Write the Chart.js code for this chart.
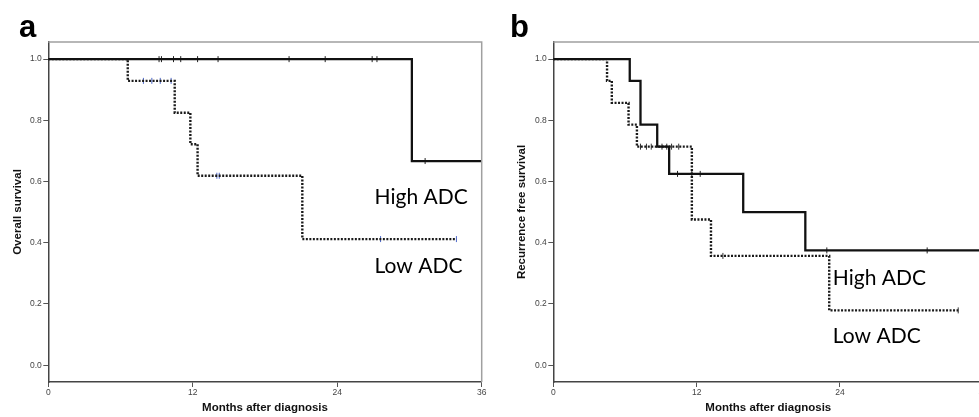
<!DOCTYPE html>
<html>
<head>
<meta charset="utf-8">
<script src="https://cdn.jsdelivr.net/npm/chart.js@4.4.0/dist/chart.umd.min.js"></script>
<style>
  html, body { margin: 0; padding: 0; background: #fff; overflow: hidden; width: 979px; height: 417px; }
  #chartA { position: absolute; left: 0; top: 0; }
  #chartB { position: absolute; left: 490px; top: 0; }
</style>
</head>
<body>
<canvas id="chartA" width="490" height="417"></canvas>
<canvas id="chartB" width="500" height="417"></canvas>
<script>
const monthTicks = [0, 12, 24, 36];
const survTicks = [0, 0.2, 0.4, 0.6, 0.8, 1.0];

// a: overall survival
const osHighMonths = [0, 30.2, 36];
const osHighSurv = [1, 0.667, 0.667];
const osHighCensored = [9.2, 9.4, 10.4, 11.0, 12.4, 14.1, 20.0, 23.0, 26.9, 27.3, 31.3];

const osLowMonths = [0, 6.6, 10.5, 11.8, 12.4, 21.1, 33.9];
const osLowSurv = [1, 0.929, 0.825, 0.722, 0.619, 0.412, 0.412];
const osLowCensored = [7.9, 8.6, 9.3, 10.2, 14.0, 14.2, 27.6, 33.9];

// b: recurrence free survival
const rfsHighMonths = [0, 6.4, 7.3, 8.7, 9.7, 15.9, 21.1, 36];
const rfsHighSurv = [1, 0.929, 0.786, 0.714, 0.625, 0.5, 0.375, 0.375];
const rfsHighCensored = [9.1, 9.5, 10.4, 11.6, 12.3, 22.9, 31.3];

const rfsLowMonths = [0, 4.5, 4.9, 6.3, 7.0, 11.6, 13.2, 23.1, 33.9];
const rfsLowSurv = [1, 0.929, 0.857, 0.786, 0.714, 0.476, 0.357, 0.179, 0.179];
const rfsLowCensored = [7.3, 7.8, 8.2, 9.9, 10.5, 14.2, 33.9];

function curve(months, surv) {
  return months.map((m, i) => ({ x: m, y: surv[i] }));
}

// censored cases sit on the curve at the current survival level
function censorPoints(censored, months, surv) {
  return censored.map(c => {
    let s = surv[0];
    months.forEach((m, i) => { if (m <= c) s = surv[i]; });
    return { x: c, y: s };
  });
}

const decor = {
  id: 'decor',
  afterDraw(chart, args, opts) {
    const { ctx, chartArea: a, scales: { x, y } } = chart;
    ctx.save();
    ctx.strokeStyle = '#a0a0a0';
    ctx.lineWidth = 1.5;
    ctx.beginPath();
    ctx.moveTo(a.left, a.top);
    ctx.lineTo(a.right, a.top);
    ctx.lineTo(a.right, a.bottom);
    ctx.stroke();

    ctx.fillStyle = '#000';
    ctx.font = '21px Lato';
    opts.labels.forEach(l => {
      ctx.fillText(l.text, x.getPixelForValue(l.month), y.getPixelForValue(l.surv));
    });
    ctx.font = 'bold 31px "Liberation Sans"';
    ctx.fillText(opts.letter, opts.letterX, 37);
    ctx.restore();
  }
};

function makeScales(yTitle, yWidth, yTitlePad) {
  const tickFont = { family: 'Liberation Sans', size: 8.5 };
  const titleFont = { family: 'Liberation Sans', size: 11.5, weight: 'bold' };
  return {
    x: {
      type: 'linear', min: 0, max: 36,
      afterBuildTicks: s => { s.ticks = monthTicks.map(v => ({ value: v })); },
      afterFit: s => { s.height = 35; },
      grid: { drawOnChartArea: false, drawTicks: true, tickLength: 5, color: '#555', lineWidth: 1 },
      border: { display: true, color: '#444', width: 1.5 },
      ticks: { font: tickFont, color: '#444', padding: 1, maxRotation: 0, autoSkip: false },
      title: { display: true, text: 'Months after diagnosis', font: titleFont, color: '#111', padding: { top: 0, bottom: 2 } }
    },
    y: {
      type: 'linear', min: -0.055, max: 1.056,
      afterBuildTicks: s => { s.ticks = survTicks.map(v => ({ value: v })); },
      afterFit: s => { s.width = yWidth; },
      grid: { drawOnChartArea: false, drawTicks: true, tickLength: 5, color: '#555', lineWidth: 1 },
      border: { display: true, color: '#444', width: 1.5 },
      ticks: { font: tickFont, color: '#444', padding: 1.5, callback: v => v.toFixed(1) },
      title: { display: true, text: yTitle, font: titleFont, color: '#111', padding: { top: yTitlePad, bottom: 0 } }
    }
  };
}

function stepSet(data, dashed) {
  return {
    data: data,
    stepped: 'before',
    borderColor: dashed ? '#1a1a1a' : '#111',
    borderWidth: dashed ? 2.4 : 2.3,
    borderDash: dashed ? [2, 1.5] : [],
    pointRadius: 0,
    fill: false
  };
}

function censorSet(data, color) {
  return {
    data: data,
    showLine: false,
    pointStyle: 'line',
    rotation: 90,
    pointRadius: 3,
    pointBorderWidth: 1,
    pointBorderColor: color,
    pointBackgroundColor: color
  };
}

function makeChart(id, sets, yTitle, yWidth, yTitlePad, padRight, decorOpts) {
  return new Chart(document.getElementById(id), {
    type: 'line',
    data: { datasets: sets },
    options: {
      responsive: false,
      animation: false,
      layout: { padding: { top: 42, right: padRight, left: 0, bottom: 0 } },
      plugins: { legend: { display: false }, tooltip: { enabled: false }, decor: decorOpts },
      scales: makeScales(yTitle, yWidth, yTitlePad)
    },
    plugins: [decor]
  });
}

makeChart('chartA', [
  stepSet(curve(osHighMonths, osHighSurv), false),
  stepSet(curve(osLowMonths, osLowSurv), true),
  censorSet(censorPoints(osHighCensored, osHighMonths, osHighSurv), '#222'),
  censorSet(censorPoints(osLowCensored, osLowMonths, osLowSurv), '#4a66c8')
], 'Overall survival', 48.3, 11, 8.3, {
  letter: 'a', letterX: 19,
  labels: [
    { text: 'High ADC', month: 27.1, surv: 0.526 },
    { text: 'Low ADC', month: 27.1, surv: 0.30 }
  ]
});

makeChart('chartB', [
  stepSet(curve(rfsHighMonths, rfsHighSurv), false),
  stepSet(curve(rfsLowMonths, rfsLowSurv), true),
  censorSet(censorPoints(rfsHighCensored, rfsHighMonths, rfsHighSurv), '#222'),
  censorSet(censorPoints(rfsLowCensored, rfsLowMonths, rfsLowSurv), '#333')
], 'Recurrence free survival', 63.3, 25, 6.7, {
  letter: 'b', letterX: 20,
  labels: [
    { text: 'High ADC', month: 23.4, surv: 0.263 },
    { text: 'Low ADC', month: 23.4, surv: 0.071 }
  ]
});
</script>
</body>
</html>
